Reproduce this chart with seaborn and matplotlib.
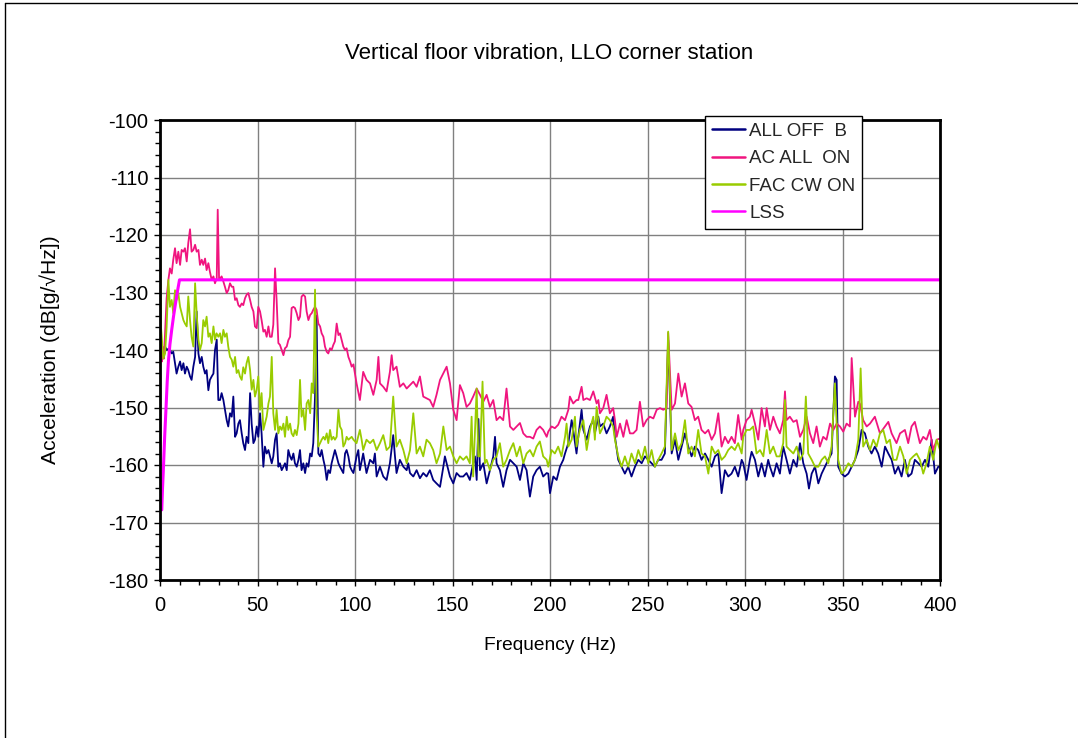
import matplotlib
matplotlib.use("Agg")
import matplotlib.pyplot as plt
from matplotlib.lines import Line2D
from matplotlib.ticker import MultipleLocator
import seaborn as sns
import pandas as pd

# ---- spectra: (frequency Hz, acceleration dB[g/sqrt(Hz)]) ----
all_off_b = [
    (0.0, -138.0), (0.9, -139.5), (1.7, -141.0), (2.6, -139.4), (3.4, -140.0), (4.3, -139.8),
    (5.1, -140.0), (6.0, -140.6), (6.8, -140.3), (7.7, -142.3), (8.5, -144.1), (9.4, -142.9),
    (10.3, -142.0), (11.1, -143.5), (12.0, -142.3), (12.8, -144.1), (13.7, -142.9), (14.5, -143.5),
    (15.4, -144.6), (16.2, -145.2), (17.1, -142.9), (18.0, -141.2), (18.8, -133.3), (19.7, -140.6),
    (20.5, -142.3), (21.4, -141.2), (22.2, -142.9), (23.1, -144.1), (23.9, -143.5), (24.8, -147.0),
    (25.6, -145.2), (26.5, -144.6), (27.4, -144.1), (28.2, -140.0), (29.1, -138.2), (29.9, -148.7),
    (30.8, -148.7), (31.6, -147.5), (32.5, -148.7), (33.3, -150.4), (34.2, -152.2), (35.0, -153.3),
    (35.9, -151.0), (36.8, -151.6), (37.6, -148.1), (38.5, -155.1), (39.3, -154.5), (40.2, -152.8),
    (41.0, -152.2), (41.9, -154.5), (42.7, -156.2), (43.6, -157.4), (44.4, -155.1), (45.3, -156.2),
    (46.2, -147.5), (47.0, -152.8), (47.9, -156.2), (48.7, -155.6), (49.6, -153.3), (50.4, -155.1),
    (51.3, -151.0), (52.1, -154.5), (53.0, -160.3), (53.8, -156.8), (54.7, -158.0), (55.6, -157.4),
    (56.4, -158.5), (57.3, -159.7), (58.1, -158.5), (59.0, -155.6), (59.8, -154.5), (60.7, -160.3),
    (61.5, -159.7), (62.4, -160.9), (63.3, -160.3), (64.1, -159.7), (65.0, -160.9), (65.8, -157.4),
    (66.7, -158.5), (67.5, -159.1), (68.4, -158.0), (69.2, -159.7), (70.1, -160.3), (71.0, -159.1),
    (71.8, -157.4), (72.6, -160.9), (73.5, -159.7), (74.4, -161.4), (75.2, -159.7), (76.1, -160.3),
    (77.0, -158.0), (77.8, -158.5), (78.6, -156.2), (79.5, -148.1), (80.3, -134.0), (81.2, -158.0),
    (82.1, -158.5), (82.9, -157.4), (83.8, -159.1), (84.6, -160.3), (85.5, -162.6), (86.3, -160.9),
    (87.2, -161.4), (88.0, -159.7), (88.9, -158.5), (89.7, -157.4), (90.6, -158.5), (91.5, -159.7),
    (92.3, -160.3), (93.2, -160.9), (94.0, -161.4), (94.9, -158.0), (95.7, -157.4), (96.6, -158.5),
    (97.5, -160.3), (98.3, -160.9), (99.2, -161.4), (100.8, -158.5), (101.7, -157.4), (102.5, -160.9),
    (104.2, -158.0), (105.9, -161.4), (107.7, -159.1), (109.4, -159.7), (110.2, -158.0), (111.1, -162.0),
    (112.8, -160.3), (114.5, -162.0), (116.2, -162.6), (117.9, -159.7), (119.6, -154.8), (120.5, -158.5),
    (121.3, -161.4), (123.0, -159.1), (124.8, -160.3), (126.5, -160.9), (127.3, -159.7), (128.2, -161.4),
    (129.9, -162.0), (131.6, -160.9), (133.3, -162.3), (135.0, -161.4), (136.7, -162.0), (138.4, -160.9),
    (140.1, -162.6), (141.8, -163.2), (143.6, -163.8), (145.3, -160.3), (146.1, -158.5), (147.0, -159.7),
    (148.7, -162.0), (150.4, -163.2), (152.1, -161.4), (153.8, -162.0), (155.5, -162.0), (157.2, -161.4),
    (158.9, -162.6), (160.6, -159.7), (161.5, -158.5), (162.4, -162.6), (163.3, -152.0), (164.1, -160.9),
    (165.8, -159.7), (167.5, -163.2), (169.2, -160.9), (170.9, -158.5), (171.8, -155.1), (172.6, -159.7),
    (174.3, -160.9), (176.0, -163.8), (177.7, -160.9), (179.5, -159.1), (181.2, -159.7), (182.9, -160.3),
    (184.6, -162.6), (186.3, -159.7), (188.0, -160.9), (189.7, -165.5), (191.4, -162.0), (193.1, -160.9),
    (194.8, -160.3), (196.5, -162.0), (198.3, -161.4), (199.1, -161.5), (200.0, -164.9), (201.7, -162.0),
    (203.4, -162.6), (205.1, -160.3), (206.8, -159.1), (207.7, -158.0), (209.4, -156.2), (211.1, -152.2),
    (211.9, -153.9), (213.6, -158.0), (214.5, -155.1), (216.2, -150.4), (217.1, -153.9), (218.8, -155.6),
    (220.5, -153.3), (222.2, -152.2), (223.0, -154.5), (224.8, -151.6), (225.6, -153.3), (227.3, -152.8),
    (229.0, -154.5), (230.7, -153.3), (232.4, -151.6), (233.3, -155.1), (235.0, -159.1), (236.7, -160.3),
    (238.4, -161.5), (240.1, -160.3), (241.8, -162.0), (243.6, -160.3), (245.3, -159.1), (247.0, -159.7),
    (248.7, -158.5), (250.4, -159.1), (252.1, -159.7), (253.8, -160.3), (255.5, -159.1), (257.2, -159.1),
    (258.9, -158.0), (260.6, -138.3), (262.4, -158.0), (264.1, -155.6), (265.8, -159.1), (267.5, -156.8),
    (269.2, -154.5), (270.9, -156.8), (272.6, -158.5), (274.3, -156.8), (276.0, -157.4), (277.7, -159.1),
    (279.5, -158.0), (281.2, -159.1), (282.9, -160.3), (284.6, -158.5), (286.3, -158.0), (288.0, -164.9),
    (289.7, -160.9), (291.4, -162.0), (293.1, -161.5), (294.8, -160.3), (296.5, -162.0), (298.3, -159.1),
    (299.1, -159.7), (300.8, -162.6), (302.5, -159.1), (303.4, -157.7), (305.1, -159.1), (306.8, -162.0),
    (308.5, -159.7), (310.2, -162.0), (311.9, -159.1), (312.8, -160.3), (314.5, -162.0), (316.2, -159.7),
    (317.9, -161.5), (319.6, -156.8), (321.3, -159.1), (323.0, -161.5), (324.8, -159.1), (326.5, -160.3),
    (328.2, -156.2), (329.9, -159.7), (331.6, -161.5), (332.8, -164.1), (334.2, -161.5), (335.9, -160.3),
    (337.6, -163.2), (339.3, -161.5), (341.0, -160.3), (342.7, -159.1), (344.4, -158.0), (346.1, -144.6),
    (347.0, -145.2), (347.8, -160.3), (349.5, -161.5), (351.2, -162.0), (353.0, -161.5), (354.7, -160.3),
    (356.4, -159.1), (358.1, -157.4), (359.8, -153.9), (361.5, -154.5), (363.2, -156.8), (364.9, -158.0),
    (366.6, -156.8), (368.3, -158.0), (370.1, -160.3), (371.8, -156.8), (373.5, -158.0), (375.2, -159.1),
    (376.9, -161.5), (378.6, -160.3), (380.3, -162.0), (382.0, -159.1), (383.7, -162.0), (385.4, -161.5),
    (387.1, -159.1), (388.9, -159.7), (390.6, -160.3), (392.3, -159.1), (394.0, -160.3), (395.7, -155.6),
    (397.4, -161.5), (399.1, -160.3), (400.0, -160.3),
]

ac_all_on = [
    (0.0, -138.0), (0.5, -140.5), (1.0, -142.0), (1.5, -139.5), (2.0, -141.5), (2.6, -137.0),
    (3.4, -131.0), (4.3, -127.8), (5.1, -125.8), (6.0, -126.7), (6.8, -124.3), (7.7, -122.3),
    (8.5, -124.9), (9.4, -122.9), (10.3, -125.2), (11.1, -122.6), (12.0, -122.9), (12.8, -122.3),
    (13.7, -124.6), (14.5, -121.4), (15.4, -119.0), (16.2, -122.9), (17.1, -122.6), (18.0, -121.7),
    (18.8, -122.9), (19.7, -122.6), (20.5, -125.2), (21.4, -124.3), (22.2, -125.2), (23.1, -124.1),
    (23.9, -126.1), (24.8, -124.9), (25.6, -126.4), (26.5, -127.8), (27.4, -127.2), (28.2, -128.4),
    (29.1, -127.5), (29.6, -115.6), (30.3, -127.8), (31.6, -127.2), (32.5, -128.1), (33.3, -129.0),
    (34.2, -130.1), (35.0, -129.6), (35.9, -128.4), (36.8, -129.0), (37.6, -129.0), (38.5, -131.3),
    (39.3, -131.0), (40.2, -132.2), (41.0, -132.5), (41.9, -131.9), (42.7, -132.2), (43.6, -131.0),
    (44.4, -130.4), (45.3, -130.1), (46.2, -131.3), (47.0, -132.5), (47.9, -133.3), (48.7, -135.9),
    (49.6, -136.2), (50.4, -132.5), (51.3, -133.3), (52.1, -134.8), (53.0, -136.8), (53.8, -136.5),
    (54.7, -137.7), (55.6, -135.9), (56.4, -137.7), (57.3, -137.7), (58.1, -135.6), (59.0, -125.8),
    (59.8, -131.3), (60.7, -138.8), (61.5, -139.1), (62.4, -140.0), (63.3, -140.9), (64.1, -139.7),
    (65.0, -139.4), (65.8, -138.3), (66.7, -137.7), (67.5, -132.7), (68.4, -132.5), (69.2, -132.7),
    (70.1, -133.6), (71.0, -134.8), (71.8, -134.2), (72.6, -130.7), (73.5, -130.4), (74.4, -130.7),
    (75.2, -133.3), (76.1, -134.8), (77.0, -133.9), (77.8, -133.6), (78.6, -133.0), (79.5, -132.5),
    (80.3, -133.0), (81.2, -135.4), (82.1, -135.9), (82.9, -137.1), (83.8, -137.7), (84.6, -139.4),
    (85.5, -140.3), (86.3, -140.6), (87.2, -139.7), (88.0, -140.0), (88.9, -139.1), (89.7, -138.5),
    (90.6, -135.4), (91.5, -137.4), (92.3, -137.1), (93.2, -138.3), (94.0, -139.4), (94.9, -140.0),
    (95.7, -139.7), (96.6, -141.2), (97.5, -142.0), (98.3, -142.9), (99.2, -142.5), (100.8, -145.8),
    (102.5, -148.7), (104.2, -143.8), (105.9, -145.2), (107.7, -145.8), (109.4, -147.8), (111.1, -145.2),
    (112.0, -141.2), (112.8, -145.8), (114.5, -146.4), (116.2, -147.2), (117.9, -143.8), (118.8, -140.9),
    (119.6, -143.5), (121.3, -142.9), (123.0, -146.4), (124.8, -145.8), (126.5, -146.7), (128.2, -146.1),
    (129.9, -145.5), (131.6, -146.4), (133.3, -144.6), (135.0, -148.1), (138.4, -148.7), (140.1, -149.9),
    (141.8, -147.8), (143.6, -145.2), (147.0, -142.9), (148.7, -145.8), (150.4, -150.4), (152.1, -152.2),
    (153.8, -146.1), (155.5, -147.5), (157.2, -149.9), (158.9, -149.3), (160.6, -148.1), (162.4, -146.7),
    (164.1, -147.8), (165.8, -149.0), (167.5, -147.8), (169.2, -149.9), (170.9, -148.7), (172.6, -152.2),
    (174.3, -151.6), (176.0, -152.2), (177.7, -146.7), (179.5, -153.3), (181.2, -153.9), (182.9, -153.3),
    (184.6, -152.7), (186.3, -154.5), (188.0, -155.1), (189.7, -155.1), (191.4, -155.4), (193.1, -153.9),
    (194.8, -153.3), (196.5, -153.9), (198.3, -155.1), (199.1, -154.2), (200.8, -153.3), (202.5, -153.6),
    (204.2, -153.0), (205.9, -151.6), (207.7, -152.2), (209.4, -150.4), (210.2, -148.1), (211.9, -149.3),
    (213.6, -148.7), (214.5, -148.7), (216.2, -146.4), (217.1, -148.7), (218.8, -148.4), (220.5, -148.7),
    (222.2, -147.2), (223.9, -149.3), (224.8, -148.7), (225.6, -151.0), (227.3, -150.1), (229.0, -147.8),
    (230.7, -151.0), (232.4, -150.1), (233.3, -152.2), (234.2, -155.1), (235.9, -152.8), (237.6, -155.1),
    (239.3, -152.2), (241.0, -154.5), (242.7, -154.5), (244.4, -153.9), (246.1, -149.0), (247.8, -153.3),
    (249.5, -152.2), (251.2, -151.6), (253.0, -151.9), (254.7, -150.4), (256.4, -150.1), (258.1, -150.4),
    (259.8, -150.1), (260.6, -137.0), (262.4, -150.4), (264.1, -149.3), (265.8, -144.1), (267.5, -148.1),
    (269.2, -145.8), (270.9, -149.3), (272.6, -149.9), (274.3, -152.2), (276.0, -151.6), (277.7, -153.9),
    (279.5, -154.5), (281.2, -153.9), (282.9, -155.6), (284.6, -154.5), (286.3, -151.0), (288.0, -156.8),
    (289.7, -155.1), (291.4, -156.2), (293.1, -155.1), (294.8, -156.2), (296.5, -151.3), (298.3, -155.6),
    (299.1, -153.9), (300.8, -152.2), (302.5, -151.6), (303.4, -150.4), (305.1, -152.8), (306.8, -155.6),
    (308.5, -150.1), (310.2, -153.3), (311.1, -150.1), (312.8, -153.9), (314.5, -151.6), (316.2, -153.3),
    (317.9, -154.5), (319.6, -152.2), (320.5, -147.2), (321.3, -152.2), (323.0, -151.6), (324.8, -152.5),
    (326.5, -152.2), (328.2, -155.1), (329.9, -153.9), (331.6, -151.6), (333.3, -154.5), (335.0, -156.2),
    (336.7, -153.3), (338.4, -156.8), (340.1, -155.1), (341.8, -155.6), (343.6, -152.8), (345.3, -153.9),
    (347.0, -152.8), (348.7, -153.3), (350.4, -154.2), (352.1, -152.8), (353.8, -153.3), (354.7, -141.4),
    (356.4, -151.6), (358.1, -149.0), (358.9, -149.3), (360.6, -152.2), (362.4, -153.3), (364.1, -152.8),
    (366.6, -151.6), (369.2, -154.5), (371.8, -153.3), (373.5, -152.5), (375.2, -154.5), (377.7, -156.2),
    (379.5, -154.5), (382.0, -153.9), (383.7, -156.2), (385.4, -153.3), (387.1, -152.5), (389.7, -156.2),
    (391.4, -155.1), (393.1, -155.6), (394.8, -153.9), (396.5, -157.4), (398.3, -155.6), (400.0, -155.4),
]

fac_cw_on = [
    (0.0, -113.6), (0.5, -136.0), (0.9, -137.7), (1.7, -141.5), (2.6, -140.6), (3.4, -136.0),
    (4.3, -127.8), (5.1, -132.5), (6.0, -131.3), (6.8, -133.6), (7.7, -129.6), (8.5, -131.3),
    (9.4, -130.1), (10.3, -132.5), (11.1, -133.6), (12.0, -134.8), (12.8, -135.4), (13.7, -135.9),
    (14.5, -130.7), (15.4, -134.8), (16.2, -137.7), (17.1, -139.4), (18.0, -128.4), (18.8, -133.6),
    (19.7, -138.2), (20.5, -140.0), (21.4, -138.8), (22.2, -134.8), (23.1, -135.9), (23.9, -134.2),
    (24.8, -137.7), (25.6, -137.1), (26.5, -138.8), (27.4, -135.9), (28.2, -138.2), (29.0, -137.1),
    (29.9, -137.7), (30.8, -137.1), (31.6, -138.8), (32.5, -136.5), (33.3, -137.7), (34.2, -137.1),
    (35.0, -139.4), (35.9, -141.2), (36.8, -141.7), (37.6, -142.9), (38.5, -141.2), (39.3, -144.0),
    (40.2, -143.5), (41.0, -144.6), (41.9, -145.2), (42.7, -143.0), (43.6, -144.1), (44.4, -142.3),
    (45.3, -141.2), (46.2, -143.5), (47.0, -146.9), (47.9, -145.2), (48.7, -148.1), (49.6, -146.9),
    (50.4, -144.6), (51.3, -150.4), (52.1, -147.5), (53.0, -153.9), (53.8, -152.8), (54.7, -151.6),
    (55.6, -149.3), (56.4, -148.1), (57.3, -141.2), (58.1, -151.0), (59.0, -153.9), (59.8, -150.4),
    (60.7, -154.5), (61.5, -153.3), (62.4, -153.9), (63.3, -152.8), (64.1, -155.1), (65.0, -151.6),
    (65.8, -153.9), (66.7, -152.8), (67.5, -154.5), (68.4, -155.0), (69.2, -153.9), (70.1, -154.8),
    (71.0, -152.8), (71.8, -145.2), (72.6, -151.6), (73.5, -150.4), (74.4, -153.9), (75.2, -149.3),
    (76.1, -148.7), (77.0, -151.0), (77.8, -145.8), (78.6, -147.5), (79.5, -129.5), (80.3, -151.0),
    (81.2, -156.8), (82.1, -156.2), (82.9, -155.6), (83.8, -155.1), (84.6, -155.6), (85.5, -154.5),
    (86.3, -156.2), (87.2, -153.9), (88.0, -155.6), (88.9, -155.1), (89.7, -155.6), (90.6, -155.1),
    (91.5, -150.4), (92.3, -153.3), (93.2, -153.9), (94.0, -156.8), (94.9, -156.2), (95.7, -155.1),
    (96.6, -155.6), (98.3, -155.1), (99.2, -155.6), (100.8, -156.2), (102.5, -153.9), (103.4, -155.6),
    (104.2, -157.4), (105.9, -155.6), (107.7, -156.2), (109.4, -155.6), (111.1, -157.4), (112.8, -156.2),
    (114.5, -154.8), (116.2, -157.4), (117.9, -156.8), (119.6, -148.1), (121.3, -156.8), (123.0, -155.6),
    (124.8, -157.4), (126.5, -159.7), (128.2, -157.4), (129.9, -151.0), (131.6, -158.0), (133.3, -156.8),
    (135.0, -158.5), (136.7, -155.6), (138.4, -156.2), (140.1, -157.4), (141.8, -159.7), (143.6, -158.0),
    (145.3, -153.3), (147.0, -157.4), (148.7, -156.8), (150.4, -158.5), (152.1, -159.7), (153.8, -158.5),
    (155.5, -159.1), (157.2, -158.5), (158.9, -159.7), (159.8, -151.6), (160.6, -162.0), (162.4, -146.7),
    (163.2, -158.5), (164.1, -158.5), (165.4, -145.5), (166.6, -159.7), (167.5, -159.1), (169.2, -160.9),
    (170.9, -159.1), (172.6, -158.5), (174.3, -156.2), (176.0, -160.3), (177.7, -159.1), (179.5, -157.4),
    (181.2, -156.2), (182.9, -158.5), (184.6, -156.8), (186.3, -159.7), (188.0, -158.0), (189.7, -157.4),
    (191.4, -158.5), (193.1, -156.8), (194.8, -155.9), (196.5, -158.5), (198.3, -159.1), (199.1, -160.3),
    (200.8, -157.4), (202.5, -158.0), (204.2, -156.8), (205.9, -158.5), (207.7, -155.1), (208.5, -152.8),
    (209.4, -156.8), (211.1, -155.6), (212.8, -151.6), (213.6, -156.8), (215.3, -153.9), (217.1, -152.2),
    (218.8, -157.4), (220.5, -153.9), (222.2, -151.6), (223.0, -155.6), (223.9, -149.9), (225.6, -154.5),
    (227.3, -153.3), (229.0, -151.6), (230.7, -152.2), (232.4, -153.3), (233.3, -155.6), (235.0, -158.5),
    (236.7, -160.3), (238.4, -158.5), (240.1, -160.3), (241.8, -158.0), (243.6, -159.7), (245.3, -157.4),
    (247.0, -159.1), (248.7, -156.8), (250.4, -159.7), (252.1, -157.4), (253.8, -160.3), (255.5, -159.1),
    (257.2, -158.0), (258.9, -156.8), (260.6, -136.8), (262.4, -157.4), (264.1, -154.5), (265.8, -157.4),
    (267.5, -156.2), (269.2, -152.2), (270.9, -158.0), (272.6, -156.8), (274.3, -158.5), (276.0, -153.9),
    (277.7, -158.0), (279.5, -158.5), (281.2, -161.5), (282.9, -156.8), (284.6, -158.0), (286.3, -157.4),
    (288.0, -159.1), (289.7, -158.5), (291.4, -157.4), (293.1, -156.8), (294.8, -157.4), (296.5, -156.2),
    (298.3, -158.0), (299.1, -155.1), (300.8, -153.9), (302.5, -153.9), (304.2, -153.3), (305.9, -158.0),
    (307.7, -157.4), (309.4, -158.5), (311.1, -153.9), (312.8, -158.0), (314.5, -156.8), (316.2, -158.5),
    (317.9, -158.5), (319.6, -156.2), (320.5, -148.7), (321.3, -156.8), (323.0, -157.4), (324.8, -158.0),
    (326.5, -156.8), (328.2, -159.1), (329.9, -158.0), (331.2, -148.1), (332.4, -158.0), (334.2, -159.1),
    (335.9, -160.3), (337.6, -160.3), (339.3, -159.1), (341.0, -158.5), (342.7, -159.7), (344.4, -156.8),
    (346.1, -145.8), (347.8, -159.1), (349.5, -161.5), (351.2, -160.9), (353.0, -159.7), (354.7, -160.3),
    (356.4, -159.1), (358.1, -155.6), (359.3, -143.2), (360.6, -156.8), (362.4, -155.6), (364.1, -157.4),
    (365.8, -155.6), (367.5, -156.8), (369.2, -154.5), (370.9, -153.9), (372.6, -156.2), (374.3, -155.6),
    (376.0, -159.1), (377.7, -159.1), (379.5, -156.8), (381.2, -158.5), (382.9, -161.5), (384.6, -159.1),
    (386.3, -158.5), (388.0, -158.0), (389.7, -159.1), (391.4, -161.5), (393.1, -159.7), (394.8, -156.8),
    (396.5, -159.1), (398.3, -155.6), (400.0, -157.4),
]

lss = [
    (0.9, -167.8), (1.3, -164.0), (1.7, -161.0), (2.4, -155.0), (3.1, -150.0), (3.7, -145.5),
    (4.3, -142.0), (5.1, -139.0), (6.0, -136.5), (7.0, -134.0), (8.0, -131.8), (9.0, -129.7),
    (10.0, -127.8), (400.0, -127.8),
]

series_names = ["ALL OFF  B", "AC ALL  ON", "FAC CW ON", "LSS"]
series_data = [all_off_b, ac_all_on, fac_cw_on, lss]
series_colors = ["#000080", "#F0157F", "#99CC00", "#FF00FF"]
series_widths = [1.3, 1.3, 1.3, 2.2]

title_text = "Vertical floor vibration, LLO corner station"
x_label = "Frequency (Hz)"
y_label = "Acceleration (dB[g/\u221aHz])"

sns.set_theme(style="white")
plt.rcParams["font.family"] = ["Liberation Sans", "DejaVu Sans"]
plt.rcParams["axes.unicode_minus"] = False

fig = plt.figure(figsize=(10.78, 7.38), dpi=100)
fig.patch.set_facecolor("white")
ax = fig.add_axes([160 / 1078, 1 - 580 / 738, 780 / 1078, 460 / 738])
ax.set_facecolor("white")

for name, data, color, lw in zip(series_names, series_data, series_colors, series_widths):
    df = pd.DataFrame(data, columns=["hz", "db"])
    sns.lineplot(data=df, x="hz", y="db", ax=ax, color=color, linewidth=lw,
                 label=name, estimator=None, sort=False)

ax.set_xlim(0, 400)
ax.set_ylim(-180, -100)
ax.xaxis.set_major_locator(MultipleLocator(50))
ax.xaxis.set_minor_locator(MultipleLocator(10))
ax.yaxis.set_major_locator(MultipleLocator(10))
ax.yaxis.set_minor_locator(MultipleLocator(2))
ax.grid(True, which="major", color="#808080", linewidth=1.0)
ax.set_axisbelow(True)
ax.tick_params(which="both", direction="out", color="black", width=1.0,
               bottom=True, left=True, top=False, right=False)
ax.tick_params(which="major", length=4.5, labelsize=14.5, labelcolor="black")
ax.tick_params(which="minor", length=3.5)
ax.tick_params(axis="y", which="major", pad=4)
ax.tick_params(axis="x", which="major", pad=7)
for sp in ax.spines.values():
    sp.set_visible(True)
    sp.set_color("black")
    sp.set_linewidth(2.0)

ax.set_xlabel(x_label, fontsize=13.8, color="black")
ax.set_ylabel(y_label, fontsize=15.2, color="black")
ax.xaxis.set_label_coords(0.5, -65 / 460)
ax.xaxis.label.set_va("center")
ax.yaxis.set_label_coords(-110 / 780, 0.5)
ax.yaxis.label.set_va("center")

fig.text(549 / 1078, 1 - 53 / 738, title_text, ha="center", va="center",
         fontsize=16, color="black")

leg = ax.legend(loc="upper left", bbox_to_anchor=(705 / 1078, 1 - 116 / 738),
                bbox_transform=fig.transFigure, frameon=True, fancybox=False,
                framealpha=1.0, edgecolor="black", fontsize=13.5,
                handlelength=1.8, handletextpad=0.2, labelspacing=0.55,
                borderpad=0.35, borderaxespad=0.0)
leg.get_frame().set_linewidth(1.0)
for h in leg.get_lines():
    h.set_linewidth(1.8)

# page border
fig.add_artist(Line2D([5 / 1078, 5 / 1078], [0, 1 - 3 / 738], color="black", lw=1.0,
                      transform=fig.transFigure))
fig.add_artist(Line2D([5 / 1078, 1], [1 - 3 / 738, 1 - 3 / 738], color="black", lw=1.0,
                      transform=fig.transFigure))

fig.savefig("out.png", dpi=100, facecolor="white")
